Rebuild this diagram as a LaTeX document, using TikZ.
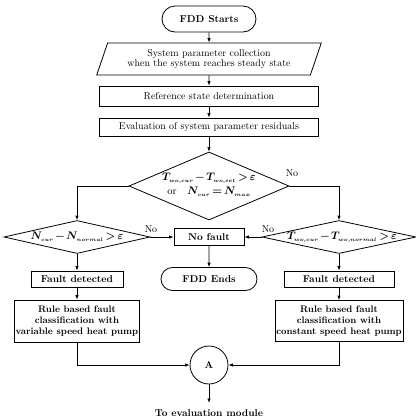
\documentclass[tikz,border=0pt]{standalone}
\usetikzlibrary{shapes.geometric,shapes.misc,arrows.meta}
\newcommand{\ssub}[1]{_{\scriptscriptstyle #1}}
\newcommand{\tightmath}{\medmuskip=2mu\relax\thickmuskip=3mu\relax}
\begin{document}
\begin{tikzpicture}[x=1bp,y=-1bp,
  base/.style={draw, line width=0.8pt, inner sep=1pt, align=center, font=\fontsize{10}{11}\selectfont},
  term/.style={base, rounded rectangle, font=\fontsize{10}{11}\selectfont\bfseries},
  proc/.style={base, rectangle},
  boldproc/.style={base, rectangle, font=\fontsize{10}{11}\selectfont\bfseries},
  ruleproc/.style={base, rectangle, font=\fontsize{9.5}{11}\selectfont\bfseries},
  dia/.style={draw, line width=0.8pt, diamond, inner sep=0pt},
  mtext/.style={align=center, inner sep=0pt, font=\fontsize{10.5}{14}\selectfont\boldmath\tightmath},
  lbl/.style={inner sep=0pt, font=\fontsize{10}{11}\selectfont},
  arr/.style={line width=0.8pt, -{Latex[length=4.5pt,width=3.5pt]}}]
\useasboundingbox (0,0) rectangle (416,420);

\node[term, minimum width=96bp, minimum height=26bp] (start) at (209,19) {FDD Starts};
\node[base, trapezium, trapezium left angle=68, trapezium right angle=112,
      trapezium stretches=true, minimum width=225bp, minimum height=32bp] (param) at (209,59)
      {System parameter collection\\when the system reaches steady state};
\node[proc, minimum width=219bp, minimum height=20bp] (ref) at (209,96) {Reference state determination};
\node[proc, minimum width=219bp, minimum height=18bp] (eval) at (209,127) {Evaluation of system parameter residuals};

\node[dia, minimum width=160bp, minimum height=68bp] (d1) at (209,186) {};
\node[mtext] (d1t) at (209,185) {$T\ssub{wo,cur}-T\ssub{wo,set}>\varepsilon$\\ \textnormal{or}\quad $N\ssub{cur}=N\ssub{max}$};

\node[dia, minimum width=146bp, minimum height=33bp] (d2) at (77,237) {};
\node[mtext] (d2t) at (77,237) {$N\ssub{cur}-N\ssub{normal}>\varepsilon$};

\node[dia, minimum width=154bp, minimum height=33bp] (d3) at (339,237) {};
\node[mtext] (d3t) at (342,237) {$T\ssub{wo,cur}-T\ssub{wo,normal}>\varepsilon$};

\node[boldproc, minimum width=70bp, minimum height=17bp] (nf) at (209,237) {No fault};
\node[term, minimum width=98bp, minimum height=23bp] (end) at (209,279) {FDD Ends};

\node[boldproc, minimum width=92bp, minimum height=16bp] (fdL) at (77,279) {Fault detected};
\node[boldproc, minimum width=110bp, minimum height=16bp] (fdR) at (339,279) {Fault detected};

\node[ruleproc, minimum width=123bp, minimum height=42bp] (ruleL) at (77,321)
  {Rule based fault\\classification with\\variable speed heat pump};
\node[ruleproc, minimum width=128bp, minimum height=41bp] (ruleR) at (339,321)
  {Rule based fault\\classification with\\constant speed heat pump};

\node[base, circle, minimum size=38bp, font=\fontsize{10}{11}\selectfont\bfseries] (A) at (209,365) {A};
\coordinate (out) at (209,403);
\node[lbl, font=\fontsize{10}{11}\selectfont\bfseries] (toeval) at (209,413) {To evaluation module};

\node[lbl] (no1) at (292,173) {No};
\node[lbl] (no2) at (151,229) {No};
\node[lbl] (no3) at (268,229) {No};

\draw[arr] (start) -- (param);
\draw[arr] (param) -- (ref);
\draw[arr] (ref) -- (eval);
\draw[arr] (eval) -- (d1);
\draw[arr] (d1.west) -| (d2.north);
\draw[arr] (d1.east) -| (d3.north);
\draw[arr] (d2.east) -- (nf.west);
\draw[arr] (d3.west) -- (nf.east);
\draw[arr] (nf) -- (end);
\draw[arr] (d2.south) -- (fdL.north);
\draw[arr] (d3.south) -- (fdR.north);
\draw[arr] (fdL) -- (ruleL);
\draw[arr] (fdR) -- (ruleR);
\draw[arr] (ruleL.south) |- (A.west);
\draw[arr] (ruleR.south) |- (A.east);
\draw[arr] (A.south) -- (out);
\end{tikzpicture}
\end{document}
